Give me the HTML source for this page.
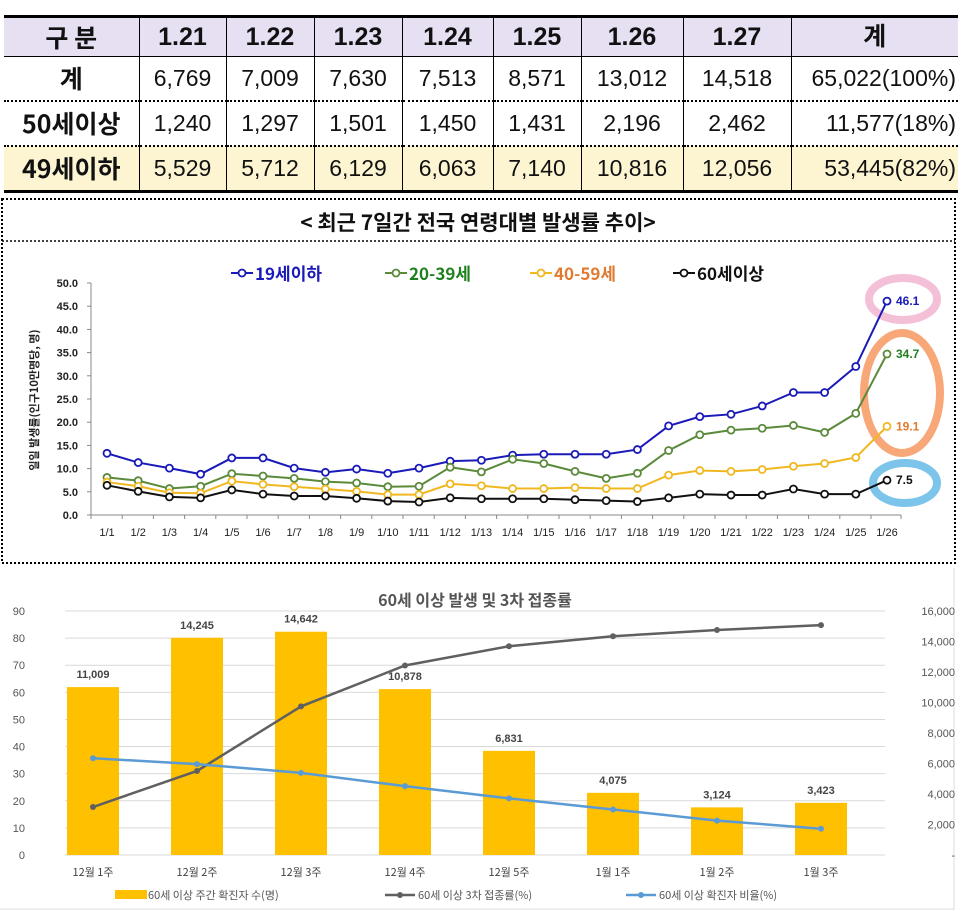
<!DOCTYPE html>
<html><head><meta charset="utf-8">
<style>
body{margin:0;background:#fff;width:962px;height:911px;position:relative;overflow:hidden;font-family:"Liberation Sans","Noto Sans CJK KR",sans-serif}
table{position:absolute;left:4px;top:15px;width:954px;border-collapse:collapse;table-layout:fixed}
td{text-align:center;font-size:23px;border-left:1.5px solid #000;padding:0;color:#111;line-height:1}
td:first-child{border-left:none;font-weight:bold;font-size:25px;font-family:"Noto Sans CJK KR",sans-serif}
tr.h td{background:#e6e0f2;font-weight:bold;font-size:25px;height:38px;border-top:3px solid #000;border-bottom:1.5px solid #000}
tr.r td{height:43px;border-bottom:2px dotted #000}
tr.last td{background:#fdf5d2;border-bottom:3px solid #000}
td.rt{text-align:right;padding-right:2px}
svg{position:absolute;left:0}
</style></head><body>
<table>
<colgroup><col style="width:135px"><col style="width:87px"><col style="width:88px"><col style="width:88px"><col style="width:91px"><col style="width:88px"><col style="width:102px"><col style="width:108px"><col></colgroup>
<tr class="h"><td>구 분</td><td>1.21</td><td>1.22</td><td>1.23</td><td>1.24</td><td>1.25</td><td>1.26</td><td>1.27</td><td>계</td></tr>
<tr class="r"><td>계</td><td>6,769</td><td>7,009</td><td>7,630</td><td>7,513</td><td>8,571</td><td>13,012</td><td>14,518</td><td class="rt">65,022(100%)</td></tr>
<tr class="r"><td>50세이상</td><td>1,240</td><td>1,297</td><td>1,501</td><td>1,450</td><td>1,431</td><td>2,196</td><td>2,462</td><td class="rt">11,577(18%)</td></tr>
<tr class="r last"><td>49세이하</td><td>5,529</td><td>5,712</td><td>6,129</td><td>6,063</td><td>7,140</td><td>10,816</td><td>12,056</td><td class="rt">53,445(82%)</td></tr>
</table>

<svg id="c1" style="top:0" width="962" height="570"></svg>
<svg id="c2" style="top:0" width="962" height="911"></svg>

<script>
const days=["1/1","1/2","1/3","1/4","1/5","1/6","1/7","1/8","1/9","1/10","1/11","1/12","1/13","1/14","1/15","1/16","1/17","1/18","1/19","1/20","1/21","1/22","1/23","1/24","1/25","1/26"];
const s19=[13.3,11.3,10.1,8.8,12.3,12.3,10.1,9.2,9.9,9.0,10.1,11.6,11.8,12.9,13.1,13.1,13.1,14.1,19.2,21.2,21.7,23.5,26.4,26.4,32.0,46.1];
const s20=[8.1,7.4,5.7,6.2,8.9,8.4,7.9,7.2,6.9,6.1,6.2,10.3,9.3,12.0,11.1,9.4,7.9,9.0,13.9,17.3,18.3,18.7,19.3,17.8,21.9,34.7];
const s40=[7.1,6.2,4.8,4.7,7.3,6.6,6.1,5.6,5.1,4.4,4.4,6.7,6.3,5.7,5.7,5.9,5.7,5.7,8.6,9.6,9.4,9.8,10.5,11.1,12.4,19.1];
const s60=[6.4,5.1,3.9,3.7,5.4,4.5,4.1,4.1,3.6,3.0,2.8,3.7,3.5,3.5,3.5,3.3,3.1,2.9,3.7,4.5,4.3,4.3,5.6,4.5,4.5,7.5];
const yTicks1=[0,5,10,15,20,25,30,35,40,45,50];

const weeks=["12월 1주","12월 2주","12월 3주","12월 4주","12월 5주","1월 1주","1월 2주","1월 3주"];
const cases=[11009,14245,14642,10878,6831,4075,3124,3423];
const booster=[17.7,31,54.8,69.9,77,80.7,83,84.8];
const ratio=[35.7,33.5,30.3,25.4,20.9,16.8,12.7,9.7];
const leftTicks=[0,10,20,30,40,50,60,70,80,90];
const rightTicks=[0,2000,4000,6000,8000,10000,12000,14000,16000];

const NS="http://www.w3.org/2000/svg";
function mk(p,t,a,txt){const e=document.createElementNS(NS,t);for(const k in a)e.setAttribute(k,a[k]);if(txt!==undefined)e.textContent=txt;p.appendChild(e);return e;}

// chart 1
const c1=document.getElementById('c1');
mk(c1,'rect',{x:2,y:199,width:953,height:364,fill:'none',stroke:'#000','stroke-width':2,'stroke-dasharray':'2,2'});
mk(c1,'line',{x1:2,y1:241,x2:955,y2:241,stroke:'#000','stroke-width':1.5,'stroke-dasharray':'2,2'});
let t=mk(c1,'text',{x:478,y:230,'text-anchor':'middle','font-size':21,'font-weight':'bold','font-family':'Noto Sans CJK KR,sans-serif',fill:'#111'},'< 최근 7일간 전국 연령대별 발생률 추이>');

const x1=i=>107+i*31.2, y1=v=>515-v*4.64;
mk(c1,'line',{x1:91,y1:283,x2:91,y2:515,stroke:'#888'});
mk(c1,'line',{x1:91,y1:515,x2:901,y2:515,stroke:'#888'});
yTicks1.forEach(v=>{mk(c1,'line',{x1:87,y1:y1(v),x2:91,y2:y1(v),stroke:'#888'});
 const e=mk(c1,'text',{x:78,y:y1(v)+4,'text-anchor':'end','font-size':11,'font-weight':'bold',fill:'#222'},v.toFixed(1));
 });
days.forEach((d,i)=>{mk(c1,'line',{x1:91+i*31.2,y1:515,x2:91+i*31.2,y2:519,stroke:'#888'});
 const e=mk(c1,'text',{x:x1(i),y:536,'text-anchor':'middle','font-size':11,fill:'#222'},d);
 });
mk(c1,'line',{x1:901,y1:515,x2:901,y2:519,stroke:'#888'});
t=mk(c1,'text',{transform:'translate(38,400) rotate(-90)','text-anchor':'middle','font-size':11,'font-weight':'bold','font-family':'Noto Sans CJK KR,sans-serif',fill:'#222'},'일일 발생률(인구10만명당, 명)');

const ser=[[s19,'#1a1ab8','19세이하','46.1','#1a1ab8'],[s20,'#5a8a3a','20-39세','34.7','#208020'],[s40,'#f0b820','40-59세','19.1','#e07a30'],[s60,'#111','60세이상','7.5','#111']];
const legX=[231,385,530,673];
mk(c1,'ellipse',{cx:903,cy:299,rx:34,ry:21,fill:'none',stroke:'#f4c0d8','stroke-width':8});
mk(c1,'ellipse',{cx:902,cy:393,rx:38,ry:60,fill:'none',stroke:'#f8a878','stroke-width':8});
mk(c1,'ellipse',{cx:905,cy:483,rx:32,ry:20,fill:'none',stroke:'#7cc4ea','stroke-width':8});
ser.forEach((s,k)=>{
 const g=mk(c1,'g',{});
 mk(g,'polyline',{points:s[0].map((v,i)=>x1(i)+','+y1(v)).join(' '),fill:'none',stroke:s[1],'stroke-width':2});
 s[0].forEach((v,i)=>{const c=mk(g,'circle',{cx:x1(i),cy:y1(v),r:3.5,fill:'#fff',stroke:s[1],'stroke-width':1.8});
  });
 const last=s[0].length-1;
 const e=mk(c1,'text',{x:x1(last)+9,y:y1(s[0][last])+4,'font-size':12,'font-weight':'bold',fill:s[4]},s[3]);
 
 const lg=mk(c1,'g',{});
 mk(lg,'line',{x1:legX[k],y1:273,x2:legX[k]+22,y2:273,stroke:s[1],'stroke-width':2});
 mk(lg,'circle',{cx:legX[k]+11,cy:273,r:3.5,fill:'#fff',stroke:s[1],'stroke-width':1.8});
 mk(lg,'text',{x:legX[k]+24,y:280,'font-size':17,'font-weight':'bold','font-family':'Noto Sans CJK KR,sans-serif',fill:s[4]},s[2]);
});

// chart 2
const c2=document.getElementById('c2');
mk(c2,'line',{x1:954,y1:568,x2:954,y2:910,stroke:'#ddd'});
mk(c2,'line',{x1:0,y1:909,x2:954,y2:909,stroke:'#ddd'});
t=mk(c2,'text',{x:475,y:606,'text-anchor':'middle','font-size':16,'font-weight':'bold','font-family':'Noto Sans CJK KR,sans-serif',fill:'#555'},'60세 이상 발생 및 3차 접종률');

const yL=v=>855-v*244/90, yR=v=>855-v*244/16000, x2=i=>93+i*104;
leftTicks.forEach(v=>{mk(c2,'line',{x1:65,y1:yL(v),x2:885,y2:yL(v),stroke:'#d9d9d9'});
 const e=mk(c2,'text',{x:25,y:yL(v)+4,'text-anchor':'end','font-size':11,fill:'#555'},v);
 });
rightTicks.forEach(v=>{const e=mk(c2,'text',{x:955,y:yR(v)+4,'text-anchor':'end','font-size':11,fill:'#555'},v===0?'-':v.toLocaleString('en-US'));
 });
weeks.forEach((w,i)=>{
 const b=mk(c2,'rect',{x:x2(i)-26,y:yR(cases[i]),width:52,height:855-yR(cases[i]),fill:'#ffc000'});
 
 let e=mk(c2,'text',{x:x2(i),y:yR(cases[i])-9,'text-anchor':'middle','font-size':11,'font-weight':'bold',fill:'#444'},cases[i].toLocaleString('en-US'));
 
 e=mk(c2,'text',{x:x2(i),y:876,'text-anchor':'middle','font-size':11,'font-family':'Noto Sans CJK KR,sans-serif',fill:'#444'},w);
 
});
function line(arr,col,name){const g=mk(c2,'g',{});
 mk(g,'polyline',{points:arr.map((v,i)=>x2(i)+','+yL(v)).join(' '),fill:'none',stroke:col,'stroke-width':2.5});
 arr.forEach((v,i)=>{const c=mk(g,'circle',{cx:x2(i),cy:yL(v),r:3,fill:col});});}
line(booster,'#606060','booster-line');
line(ratio,'#5b9bd5','ratio-line');
const lg2=[[115,'rect','#ffc000','60세 이상 주간 확진자 수(명)'],[385,'line','#606060','60세 이상 3차 접종률(%)'],[626,'line','#5b9bd5','60세 이상 확진자 비율(%)']];
lg2.forEach(l=>{const g=mk(c2,'g',{});
 if(l[1]==='rect')mk(g,'rect',{x:l[0],y:890,width:32,height:9,fill:l[2]});
 else{mk(g,'line',{x1:l[0],y1:895,x2:l[0]+30,y2:895,stroke:l[2],'stroke-width':2.5});mk(g,'circle',{cx:l[0]+15,cy:895,r:3,fill:l[2]});}
 mk(g,'text',{x:l[0]+33,y:899,'font-size':11,'font-family':'Noto Sans CJK KR,sans-serif',fill:'#555'},l[3]);});
</script>
</body></html>
